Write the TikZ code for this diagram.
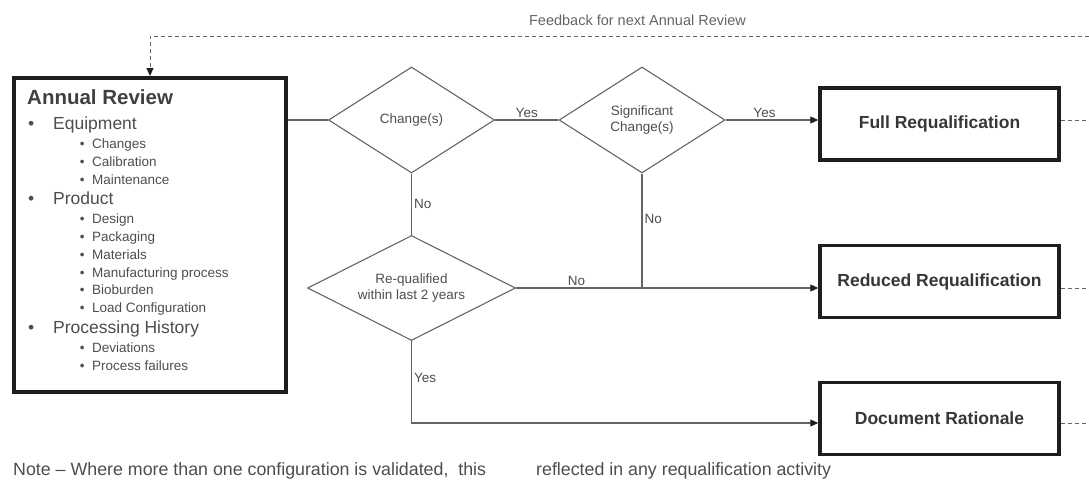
\documentclass[tikz,border=0pt]{standalone}
\usepackage{fontspec}
\setmainfont{Liberation Sans}
\usepackage{tikz}
\usetikzlibrary{shapes.geometric, arrows.meta}

\definecolor{linegray}{HTML}{646464}
\definecolor{textgray}{HTML}{4D4D4D}
\definecolor{boxblack}{HTML}{1E1E1E}

\tikzset{
    >={Triangle[length=8pt, width=7pt, color=boxblack]},
    decision/.style={draw=linegray, line width=1.1pt, diamond, inner sep=0pt,
        align=center, text=textgray, font=\fontsize{13.5}{15.5}\selectfont},
    outcome/.style={draw=boxblack, line width=3.5pt, minimum width=239pt,
        minimum height=72pt, text=textgray!70!black,
        font=\fontsize{17.5}{20}\selectfont\bfseries},
    flow/.style={draw=linegray, line width=1.1pt},
    feedback/.style={draw=linegray, line width=1pt, dash pattern=on 4pt off 3pt},
    answer/.style={text=textgray, font=\fontsize{13.5}{15}\selectfont, inner sep=2pt},
    mainitem/.style={anchor=base west, inner sep=0pt, text=textgray,
        font=\fontsize{17.5}{20}\selectfont},
    subitem/.style={anchor=base west, inner sep=0pt, text=textgray,
        font=\fontsize{13.5}{15}\selectfont},
}

\begin{document}
\begin{tikzpicture}[x=1pt, y=-1pt]
        \useasboundingbox (0,0) rectangle (1089,479);

        % Annual review box and its list
        \node (annual) [draw=boxblack, line width=4pt, minimum width=272pt,
            minimum height=314pt] at (149.5,235) {};
        \node (reviewtitle) [anchor=base west, inner sep=0pt, text=boxblack!85,
            font=\fontsize{20.5}{22}\selectfont\bfseries] at (27,104) {Annual Review};
        \foreach \y/\t [count=\i] in {129/Equipment, 204/Product, 333/Processing History}
            \node (mainitem\i) [mainitem] at (53,\y) {\llap{\textbullet\hspace{19pt}}\t};
        \foreach \y/\t [count=\i] in {148/Changes, 166/Calibration, 184/Maintenance,
                223/Design, 241/Packaging, 259/Materials, 277/Manufacturing process,
                294/Bioburden, 312/Load Configuration, 352/Deviations, 370/Process failures}
            \node (subitem\i) [subitem] at (92,\y) {\llap{\textbullet\hspace{7.5pt}}\t};

        % Decisions
        \node (change) [decision, aspect=1.6, minimum width=166pt, minimum height=106pt]
            at (411.5,120) {Change(s)};
        \node (sig) [decision, aspect=1.6, minimum width=166pt, minimum height=106pt]
            at (642,120) {Significant\\Change(s)};
        \node (requal) [decision, aspect=2, minimum width=208pt, minimum height=105pt]
            at (411.5,288) {Re-qualified\\within last 2 years};

        % Outcomes
        \node (full) [outcome] at (939.5,124) {Full Requalification};
        \node (reduced) [outcome] at (939.5,281.5) {Reduced Requalification};
        \node (docbox) [outcome] at (939.5,418.5) {Document Rationale};

        % Connectors
        \draw[flow] (change.west -| annual.east) -- (change.west);
        \draw[flow] (change) -- node (yes1) [answer, above] {Yes} (sig);
        \draw[flow, ->] (sig) -- node (yes2) [answer, above, pos=0.42] {Yes} (sig -| full.west);
        \draw[flow] (change) -- node (no1) [answer, right] {No} (requal);
        \draw[flow] (sig) -- node (no2) [answer, right, pos=0.4] {No} (sig |- requal);
        \draw[flow, ->] (requal) -- node (no3) [answer, above, pos=0.2] {No} (requal -| reduced.west);
        \coordinate (yesturn) at (411.5,423);
        \draw[flow, ->] (requal) -- node (yes3) [answer, right, pos=0.45] {Yes} (yesturn)
            -- (yesturn -| docbox.west);

        % Feedback loop
        \coordinate (fbright) at (1089,36);
        \coordinate (fbturn) at (150,36);
        \draw[feedback, ->] (fbright) -- (fbturn) -- (fbturn |- annual.north);
        \node (fblabel) [text=linegray, font=\fontsize{14.5}{16}\selectfont] at (637.5,20)
            {Feedback for next Annual Review};
        \coordinate (fullout) at (1089,120);
        \coordinate (reducedout) at (1089,288);
        \coordinate (docout) at (1089,423);
        \draw[feedback] (fullout -| full.east) -- (fullout);
        \draw[feedback] (reducedout -| reduced.east) -- (reducedout);
        \draw[feedback] (docout -| docbox.east) -- (docout);

        % Note
        \node (note1) [anchor=base west, inner sep=0pt, text=textgray,
            font=\fontsize{17.8}{20}\selectfont] at (13,475)
            {Note -- Where more than one configuration is validated,\ \ this};
        \node (note2) [anchor=base west, inner sep=0pt, text=textgray,
            font=\fontsize{17.8}{20}\selectfont] at (536,475)
            {reflected in any requalification activity};
\end{tikzpicture}
\end{document}
